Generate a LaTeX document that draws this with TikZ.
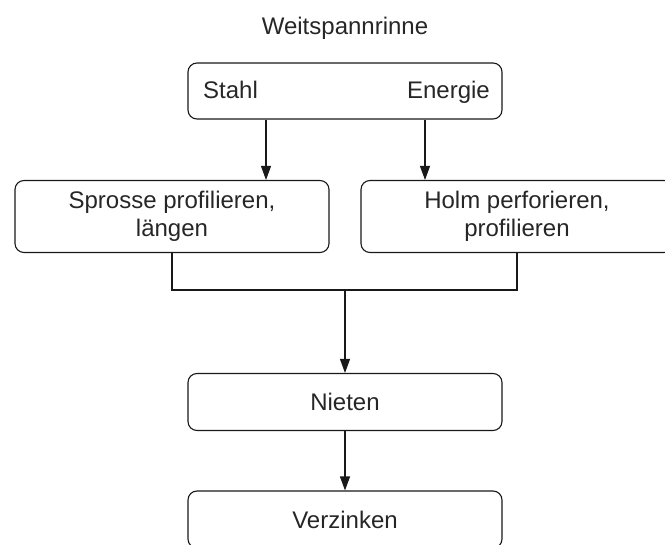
\documentclass[tikz,border=0pt]{standalone}
\usepackage{fontspec}
\setmainfont{Liberation Sans}
\usetikzlibrary{arrows.meta}
\begin{document}
\begin{tikzpicture}[x=1bp,y=-1bp,
  box/.style={draw=black!90, rounded corners=9bp, line width=1.1bp, inner sep=0pt, minimum width=314bp},
  conn/.style={draw=black!90, line width=1.1bp},
  arr/.style={conn,-{Triangle[length=14bp,width=10bp]}},
  lbl/.style={font=\fontsize{24bp}{28.5bp}\selectfont, align=center, inner sep=0pt, text=black!85}]
\useasboundingbox (0,0) rectangle (665,545);
\clip (0,0) rectangle (665,545);
\node[lbl] (title) at (345,28) {Weitspannrinne};
\node[box, minimum height=56bp] (top) at (345,91) {};
\node[lbl, anchor=base west] (stahl) at (203,99) {Stahl};
\node[lbl, anchor=base east] (energie) at (490,99) {Energie};
\node[box, minimum height=72bp] (left) at (172,216.5) {};
\node[lbl] (lefttxt) at (left.center) {Sprosse profilieren,\\längen};
\node[box, minimum height=72bp, minimum width=312bp] (right) at (517,216.5) {};
\node[lbl] (righttxt) at (right.center) {Holm perforieren,\\profilieren};
\node[box, minimum height=57bp] (nieten) at (345,402) {};
\node[lbl] (nietentxt) at (nieten.center) {Nieten};
\node[box, minimum height=57bp] (verz) at (345,519.5) {};
\node[lbl] (verztxt) at (verz.center) {Verzinken};
\coordinate (a1) at (266,0);
\coordinate (a2) at (425,0);
\coordinate (join) at (345,290);
\draw[arr] (top.south -| a1) -- (left.north -| a1);
\draw[arr] (top.south -| a2) -- (right.north -| a2);
\draw[conn] (left.south) -- (left.south |- join) -- (right.south |- join) -- (right.south);
\draw[arr] (join) -- (nieten.north);
\draw[arr] (nieten.south) -- (verz.north);
\end{tikzpicture}
\end{document}
